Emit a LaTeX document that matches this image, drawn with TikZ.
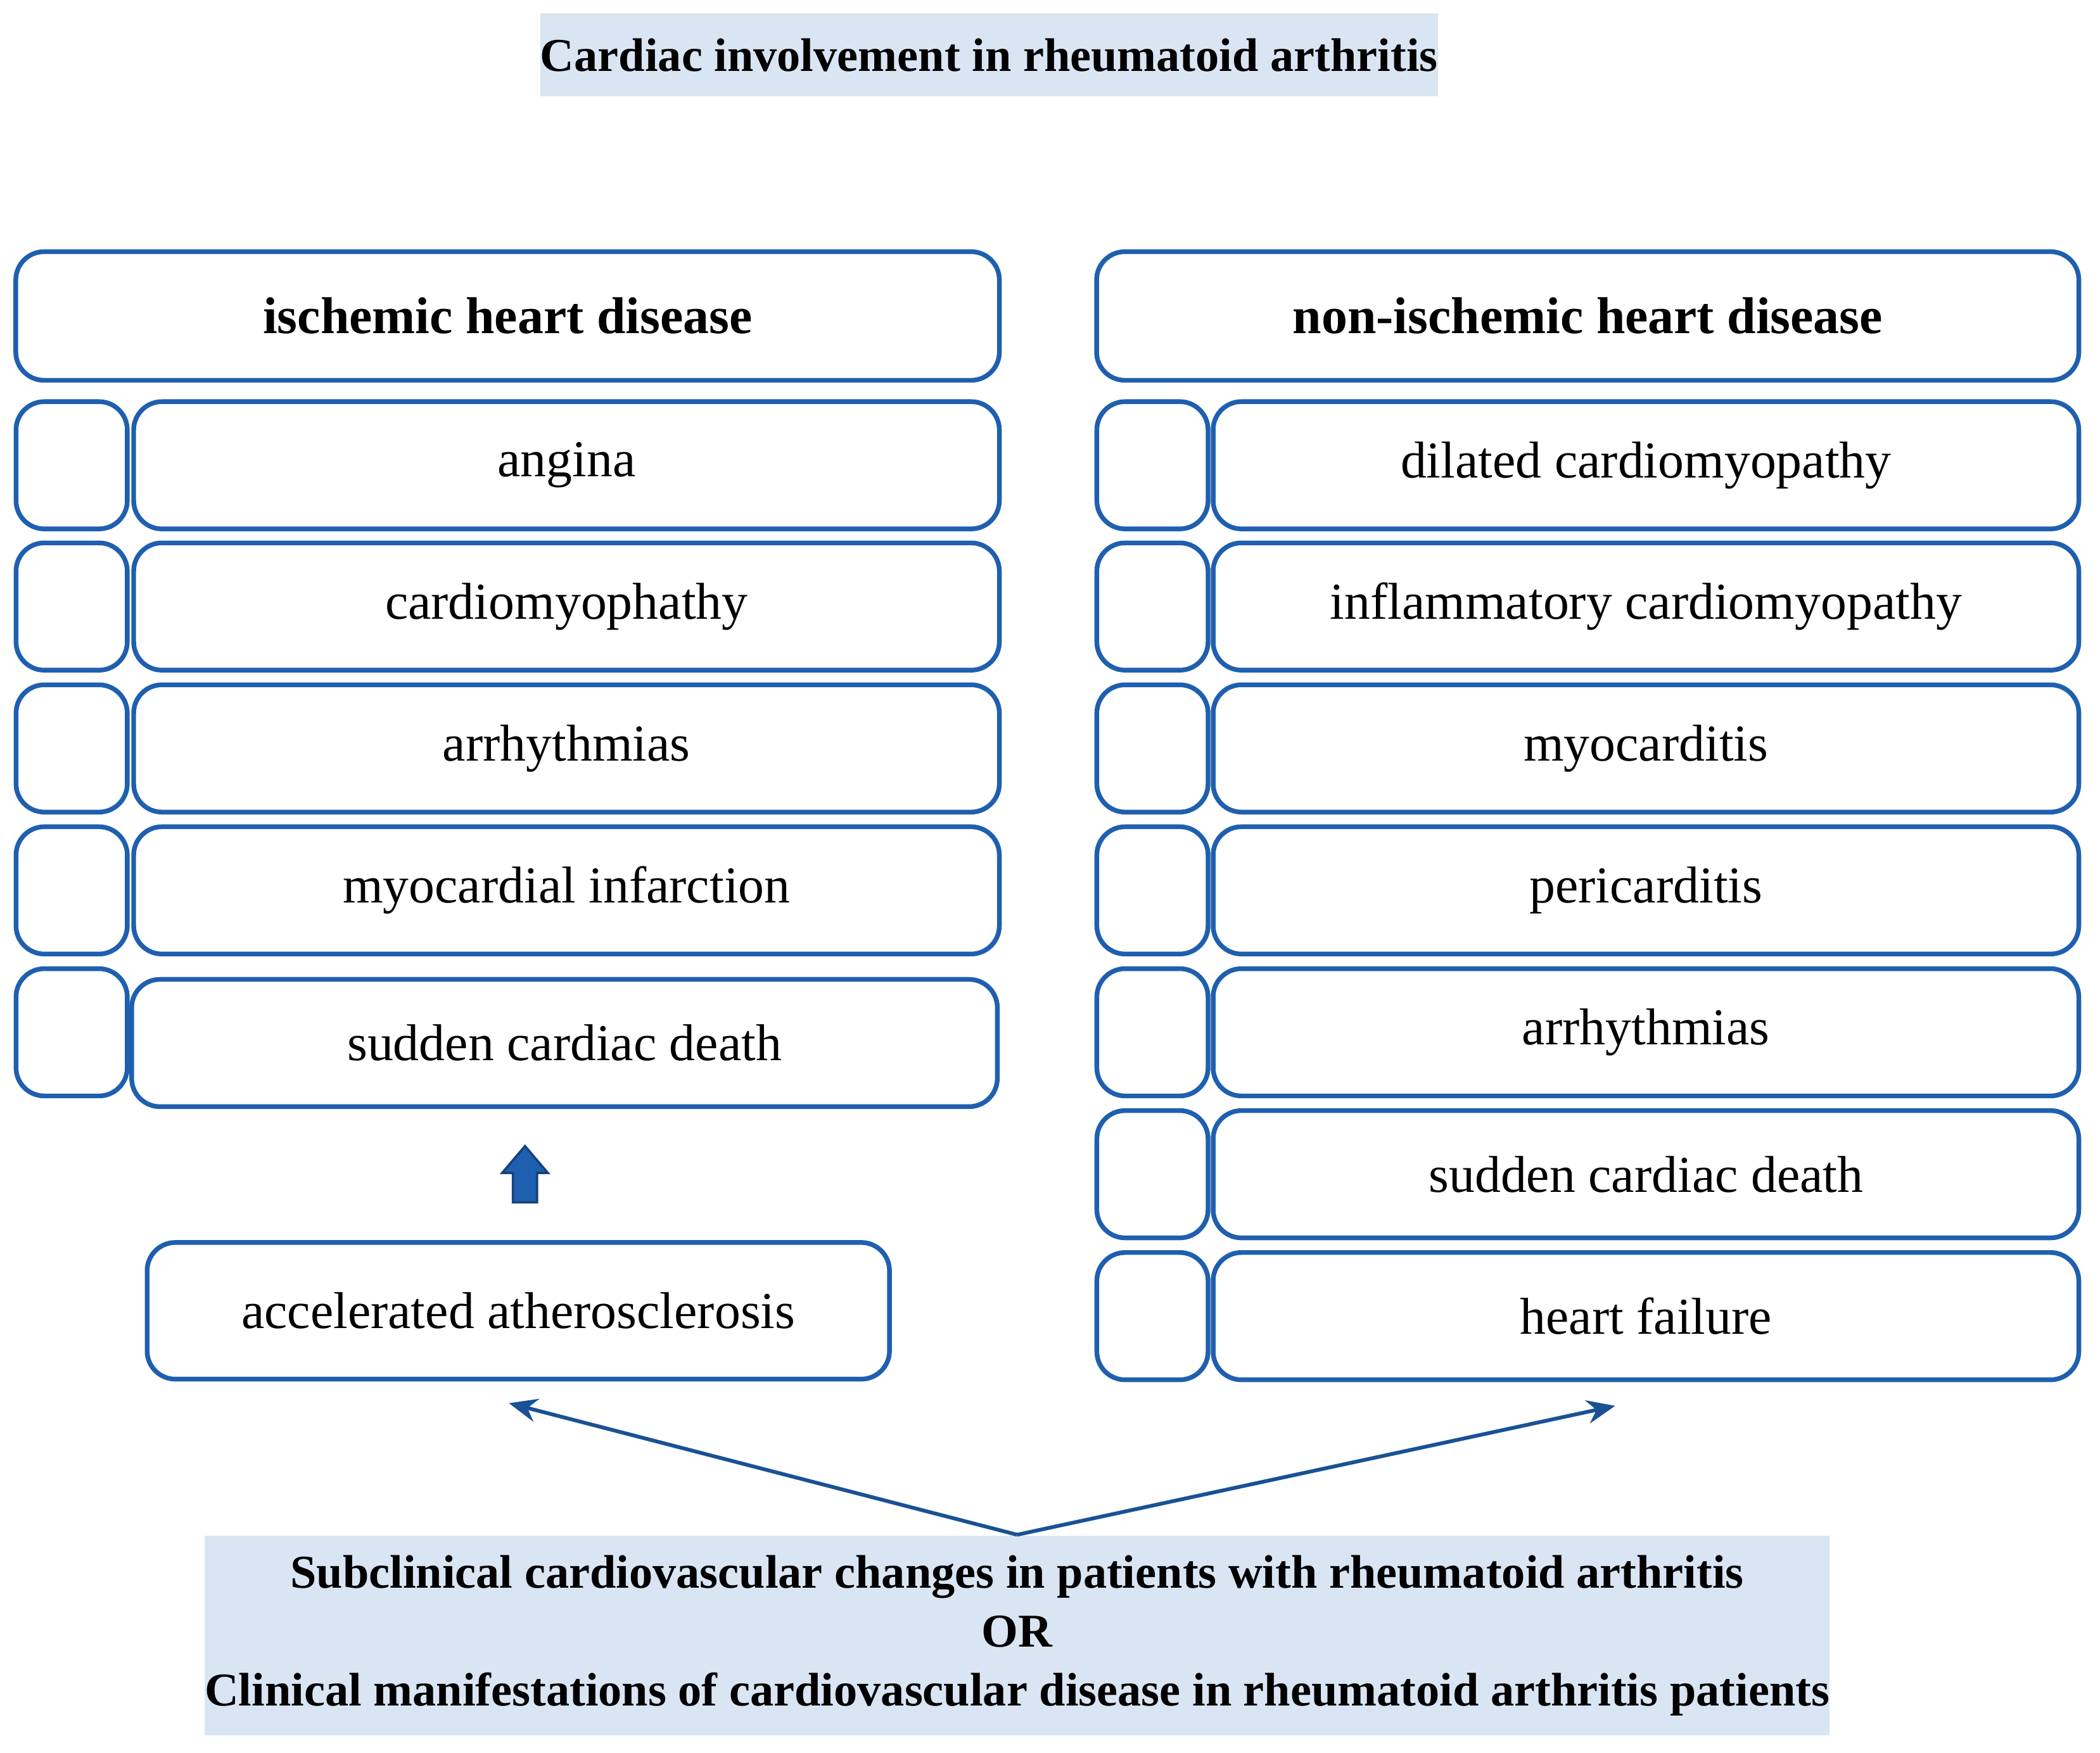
\documentclass[tikz,border=0pt]{standalone}
\usepackage{fontspec}
\setmainfont{Liberation Serif}
\usepackage{tikz}
\usetikzlibrary{arrows.meta}
\definecolor{rablue}{RGB}{31,95,175}
\definecolor{rafill}{RGB}{218,229,243}
\tikzstyle{item}=[draw=rablue, line width=1pt, rounded corners=6pt
,inner sep=0pt
,font=\fontsize{11}{12}\selectfont
]
\tikzstyle{tick box} = [item, minimum width=0.83cm, minimum height=0.95cm]
\tikzstyle{row box} = [item, minimum width=6.46cm, minimum height=0.95cm]
\tikzstyle{banner} = [fill=rafill, inner sep=0pt, font=\fontsize{10}{12.5}\selectfont\bfseries, align=center]
\tikzstyle{link} = [draw=rablue!85!black, line width=0.8pt, -{Stealth[length=6pt,width=5pt]}]

\begin{document}
\begin{tikzpicture}[x=0.01cm,y=-0.01cm]
    \useasboundingbox (0,0) rectangle (1568,1309);
    % Title and bottom banner
    \node[banner, minimum width=6.63cm, minimum height=0.62cm] (title) at (738.5,41) {Cardiac involvement in rheumatoid arthritis};
    \node[banner, minimum width=11.93cm, minimum height=1.49cm] (cause) at (759.5,1221.5)
        {Subclinical cardiovascular changes in patients with rheumatoid arthritis\\OR\\Clinical manifestations of cardiovascular disease in rheumatoid arthritis patients};
    
    % Headers
    \node[item, font=\fontsize{11}{12}\selectfont\bfseries, minimum width=7.34cm, minimum height=0.96cm] (ihd) at (379,236) {ischemic heart disease};
    \node[item, font=\fontsize{11}{12}\selectfont\bfseries, minimum width=7.33cm, minimum height=0.96cm] (nihd) at (1185.5,236) {non-ischemic heart disease};
    
    % Left column
    \foreach \y/\name/\txt in {347.5/l1/angina, 453/l2/cardiomyophathy, 559/l3/arrhythmias, 665/l4/myocardial infarction}
    {
        \node[tick box] (\name t) at (53.5,\y) {};
        \node[row box] (\name) at (423,\y) {\txt};
    }
    \node[tick box] (l5t) at (53.5,771) {};
    \node[row box] (l5) at (421.5,779) {sudden cardiac death};
    
    % Right column
    \foreach \y/\name/\txt in {347.5/r1/dilated cardiomyopathy, 453/r2/inflammatory cardiomyopathy, 559/r3/myocarditis, 665/r4/pericarditis, 771/r5/arrhythmias, 877/r6/sudden cardiac death, 983/r7/heart failure}
    {
        \node[tick box] (\name t) at (860.5,\y) {};
        \node[row box] (\name) at (1229,\y) {\txt};
    }
    
    % Atherosclerosis and arrows
    \node[item, minimum width=5.54cm, minimum height=1.02cm] (ath) at (387,979) {accelerated atherosclerosis};
    % fat block arrow
    \filldraw[fill=rablue, draw=rablue!70!black, line width=0.5pt]
        (383,898) -- (383,876) -- (375,876) -- (392,856) -- (409,876) -- (401,876) -- (401,898) -- cycle;
    \coordinate (left end) at (380,1048);
    \coordinate (right end) at (1206,1050);
    \path[link] (cause.north) -- (left end);
    \path[link] (cause.north) -- (right end);
\end{tikzpicture}
\end{document}
